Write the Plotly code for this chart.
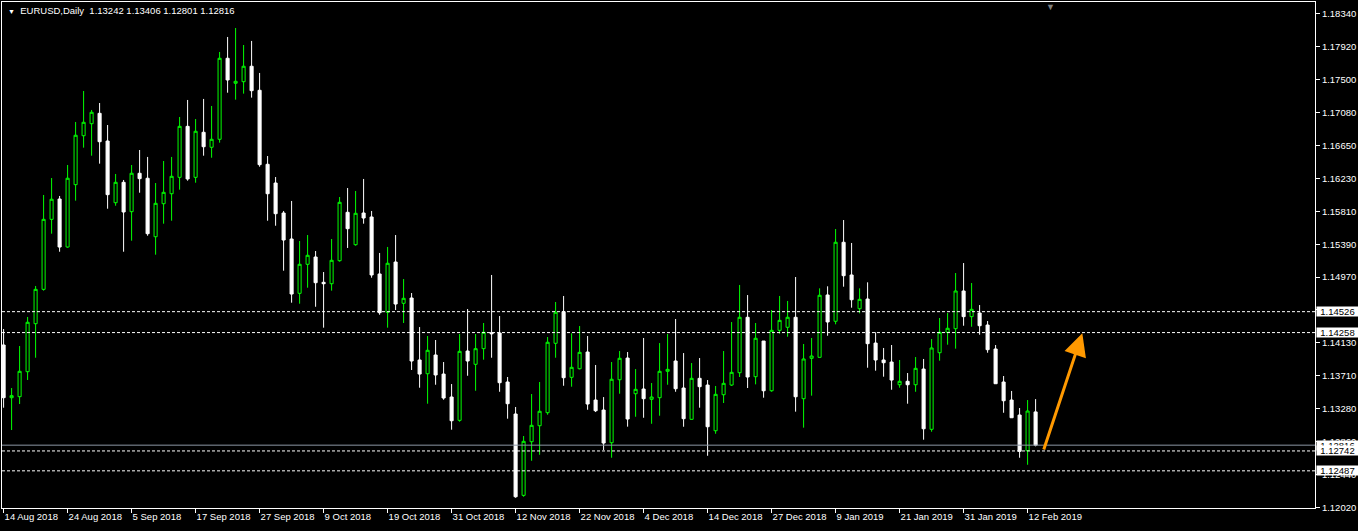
import plotly.graph_objects as go

# ---- data (EURUSD daily) ----
bar_index = list(range(130))

opens = [1.14099, 1.13424, 1.13437, 1.13757, 1.14372, 1.14812, 1.15709, 1.15969, 1.15354, 1.16153,
         1.16780, 1.16934, 1.17067, 1.16712, 1.15922, 1.16183, 1.15807, 1.16299, 1.16235, 1.15486,
         1.15909, 1.16037, 1.16247, 1.16900, 1.16247, 1.16824, 1.16632, 1.16734, 1.17772, 1.17452,
         1.17472, 1.17670, 1.17362, 1.16414, 1.16174, 1.15790, 1.15457, 1.14761, 1.15133, 1.15226,
         1.14902, 1.14884, 1.15179, 1.15799, 1.15384, 1.15790, 1.15739, 1.15009, 1.14518, 1.15162,
         1.14633, 1.14701, 1.13907, 1.13731, 1.13971, 1.13727, 1.13433, 1.13134, 1.14022, 1.13852,
         1.14052, 1.14256, 1.14253, 1.13625, 1.13215, 1.12173, 1.12860, 1.13065, 1.13232, 1.14121,
         1.14526, 1.13685, 1.13795, 1.14009, 1.13394, 1.13266, 1.12847, 1.13654, 1.13932, 1.13475,
         1.13535, 1.13403, 1.13424, 1.13762, 1.13894, 1.13548, 1.13147, 1.13672, 1.13586, 1.13001,
         1.13462, 1.13586, 1.13744, 1.14454, 1.13693, 1.14150, 1.13513, 1.14287, 1.14326, 1.14454,
         1.13411, 1.13928, 1.13941, 1.14740, 1.14403, 1.15415, 1.14996, 1.14564, 1.14688, 1.14124,
         1.13907, 1.13881, 1.13590, 1.13634, 1.13590, 1.13791, 1.13019, 1.14000, 1.14262, 1.14308,
         1.14791, 1.14462, 1.14509, 1.14355, 1.14048, 1.13625, 1.13394, 1.13202, 1.12745, 1.13242]

highs = [1.14304, 1.13548, 1.14086, 1.14458, 1.14855, 1.16021, 1.16238, 1.16008, 1.16405, 1.16956,
         1.17353, 1.17110, 1.17199, 1.16917, 1.16290, 1.16213, 1.16405, 1.16597, 1.16508, 1.16174,
         1.16456, 1.16508, 1.17020, 1.17238, 1.16994, 1.17251, 1.17161, 1.17853, 1.18045, 1.18160,
         1.17942, 1.17994, 1.17584, 1.16520, 1.16251, 1.15816, 1.15944, 1.15431, 1.15508, 1.15303,
         1.15034, 1.15457, 1.15995, 1.16110, 1.16072, 1.16226, 1.15816, 1.15278, 1.15355, 1.15508,
         1.14944, 1.14765, 1.14329, 1.14214, 1.14163, 1.13881, 1.13599, 1.14240, 1.14560, 1.14240,
         1.14381, 1.14996, 1.14470, 1.13689, 1.13305, 1.12933, 1.13471, 1.13625, 1.14201, 1.14650,
         1.14727, 1.14249, 1.14342, 1.14214, 1.13843, 1.13432, 1.13881, 1.14022, 1.14009, 1.13791,
         1.14189, 1.13612, 1.14124, 1.14240, 1.14432, 1.13996, 1.13868, 1.13932, 1.13650, 1.13574,
         1.14022, 1.14393, 1.14868, 1.14739, 1.14381, 1.14150, 1.14547, 1.14727, 1.14663, 1.14970,
         1.14112, 1.14189, 1.14825, 1.14851, 1.15585, 1.15700, 1.15406, 1.14825, 1.14902, 1.14262,
         1.14061, 1.14099, 1.13907, 1.13740, 1.13945, 1.13920, 1.14176, 1.14445, 1.14509, 1.15021,
         1.15149, 1.14893, 1.14611, 1.14406, 1.14099, 1.13702, 1.13510, 1.13292, 1.13394, 1.13406]

lows = [1.13296, 1.13010, 1.13343, 1.13651, 1.13936, 1.14795, 1.15525, 1.15294, 1.15345, 1.15948,
        1.16627, 1.16524, 1.16422, 1.15845, 1.15883, 1.15294, 1.15435, 1.16050, 1.15499, 1.15256,
        1.15653, 1.15691, 1.16089, 1.16204, 1.16178, 1.16524, 1.16498, 1.16691, 1.17331, 1.17242,
        1.17319, 1.17268, 1.16383, 1.15691, 1.15627, 1.15051, 1.14641, 1.14628, 1.14833, 1.14589,
        1.14321, 1.14795, 1.15166, 1.15342, 1.15371, 1.15653, 1.14961, 1.14487, 1.14321, 1.14547,
        1.14381, 1.13779, 1.13552, 1.13347, 1.13590, 1.13398, 1.13014, 1.13116, 1.13705, 1.13513,
        1.13911, 1.13936, 1.13500, 1.13155, 1.12142, 1.12155, 1.12616, 1.12693, 1.13206, 1.13936,
        1.13577, 1.13565, 1.13787, 1.13270, 1.13240, 1.12754, 1.12655, 1.13475, 1.13053, 1.13180,
        1.13167, 1.13090, 1.13193, 1.13590, 1.13500, 1.13052, 1.13142, 1.13296, 1.12680, 1.12962,
        1.13356, 1.13574, 1.13689, 1.13548, 1.13595, 1.13424, 1.13500, 1.14244, 1.14205, 1.13245,
        1.13040, 1.13450, 1.13941, 1.14218, 1.14364, 1.14846, 1.14577, 1.14505, 1.13808, 1.13770,
        1.13693, 1.13526, 1.13552, 1.13347, 1.13500, 1.12886, 1.12988, 1.13898, 1.14103, 1.14052,
        1.14346, 1.14333, 1.14231, 1.14000, 1.13603, 1.13231, 1.13167, 1.12655, 1.12565, 1.12801]

closes = [1.13424, 1.13450, 1.13762, 1.14390, 1.14812, 1.15709, 1.15966, 1.15354, 1.16235, 1.16786,
          1.16952, 1.17080, 1.16703, 1.16025, 1.16183, 1.15803, 1.16299, 1.16230, 1.15525, 1.15914,
          1.16055, 1.16260, 1.16900, 1.16226, 1.16837, 1.16639, 1.16734, 1.17772, 1.17494, 1.17477,
          1.17670, 1.17357, 1.16409, 1.16037, 1.15781, 1.15444, 1.14752, 1.15133, 1.15248, 1.14897,
          1.14884, 1.15184, 1.15927, 1.15589, 1.15786, 1.15726, 1.14996, 1.14513, 1.15146, 1.14624,
          1.14697, 1.13894, 1.13727, 1.14031, 1.13715, 1.13420, 1.13129, 1.14018, 1.13894, 1.14052,
          1.14262, 1.14244, 1.13616, 1.13347, 1.12155, 1.12865, 1.13070, 1.13250, 1.14134, 1.14518,
          1.13680, 1.13813, 1.14005, 1.13343, 1.13257, 1.12843, 1.13660, 1.13929, 1.13151, 1.13531,
          1.13411, 1.13433, 1.13762, 1.13787, 1.13539, 1.13155, 1.13672, 1.13565, 1.13052, 1.13467,
          1.13608, 1.13749, 1.14454, 1.13689, 1.14185, 1.13513, 1.14287, 1.14415, 1.14454, 1.13436,
          1.13920, 1.13958, 1.14736, 1.14394, 1.15415, 1.14987, 1.14679, 1.14684, 1.14116, 1.13907,
          1.13872, 1.13650, 1.13634, 1.13590, 1.13800, 1.13026, 1.14061, 1.14262, 1.14313, 1.14791,
          1.14462, 1.14556, 1.14346, 1.14039, 1.13603, 1.13385, 1.13167, 1.12737, 1.13253, 1.12816]

tick_positions = [0, 8, 16, 24, 32, 40, 48, 56, 64, 72, 80, 88, 96, 104, 112, 120, 128]
tick_labels = ["14 Aug 2018", "24 Aug 2018", "5 Sep 2018", "17 Sep 2018", "27 Sep 2018",
               "9 Oct 2018", "19 Oct 2018", "31 Oct 2018", "12 Nov 2018", "22 Nov 2018",
               "4 Dec 2018", "14 Dec 2018", "27 Dec 2018", "9 Jan 2019", "21 Jan 2019",
               "31 Jan 2019", "12 Feb 2019"]

price_ticks = [1.18340, 1.17920, 1.17500, 1.17080, 1.16650, 1.16230, 1.15810, 1.15390,
               1.14970, 1.14550, 1.14130, 1.13710, 1.13280, 1.12860, 1.12440, 1.12020]

dashed_levels = [1.14526, 1.14258, 1.12742, 1.12487]
bid_level = 1.12816

arrow_start = (129.96, 1.12741)
arrow_end = (134.84, 1.14249)

title_text = "EURUSD,Daily&nbsp;&nbsp;1.13242 1.13406 1.12801 1.12816"

FONT = "Liberation Sans, Arial, sans-serif"

fig = go.Figure()
fig.add_trace(go.Candlestick(
    x=bar_index, open=opens, high=highs, low=lows, close=closes,
    increasing=dict(line=dict(color="#00ff00", width=1), fillcolor="#000000"),
    decreasing=dict(line=dict(color="#ffffff", width=1), fillcolor="#ffffff"),
    whiskerwidth=0, showlegend=False, name="EURUSD"))

for lv in dashed_levels:
    fig.add_shape(type="line", xref="paper", x0=0, x1=1, yref="y", y0=lv, y1=lv,
                  line=dict(color="#ffffff", width=1, dash="3px,2px"))
fig.add_shape(type="line", xref="paper", x0=0, x1=1, yref="y", y0=bid_level, y1=bid_level,
              line=dict(color="#8c96a5", width=1))

annotations = []
# price labels on the right (bid first so the 1.12742 box sits on top)
for lv in [dashed_levels[0], dashed_levels[1], bid_level, dashed_levels[2], dashed_levels[3]]:
    annotations.append(dict(xref="paper", x=1, xanchor="left", xshift=1,
                            yref="y", y=lv, yanchor="middle",
                            text=f"{lv:.5f}", showarrow=False,
                            bgcolor="#ffffff", font=dict(color="#000000", size=9.5, family=FONT),
                            width=41, height=9, borderpad=0, align="center"))
annotations.append(dict(xref="paper", x=0, xanchor="left", xshift=4,
                        yref="paper", y=1, yanchor="top", yshift=-1,
                        text="<span style='font-size:7px'>▼</span>&nbsp;&nbsp;" + title_text,
                        showarrow=False, font=dict(color="#ffffff", size=9.5, family=FONT)))
annotations.append(dict(xref="paper", x=0.7985, xanchor="center",
                        yref="paper", y=1, yanchor="top", yshift=2,
                        text="▼", showarrow=False, font=dict(color="#808080", size=9, family=FONT)))
annotations.append(dict(xref="x", yref="y", x=arrow_end[0], y=arrow_end[1],
                        axref="x", ayref="y", ax=arrow_start[0], ay=arrow_start[1],
                        text="", showarrow=True, arrowhead=2, arrowsize=1.5,
                        arrowwidth=3, arrowcolor="#ff9900"))

fig.update_layout(
    width=1358, height=531,
    margin=dict(l=2, r=43, t=2, b=23),
    paper_bgcolor="#000000", plot_bgcolor="#000000",
    boxgap=0.45,
    font=dict(family=FONT, color="#ffffff", size=9.5),
    annotations=annotations,
    showlegend=False,
    xaxis=dict(range=[-0.2, 163.925], rangeslider=dict(visible=False),
               tickmode="array", tickvals=tick_positions, ticktext=tick_labels,
               ticks="outside", ticklen=4, tickcolor="#ffffff",
               ticklabelposition="outside right",
               tickfont=dict(color="#ffffff", size=9.5, family=FONT),
               showgrid=False, zeroline=False, showline=True, mirror=True,
               linecolor="#ffffff", linewidth=1),
    yaxis=dict(side="right", range=[1.12011, 1.18493],
               tickmode="array", tickvals=price_ticks,
               ticktext=[f"{v:.5f}" for v in price_ticks],
               ticks="outside", ticklen=4, tickcolor="#ffffff",
               tickfont=dict(color="#ffffff", size=9.5, family=FONT),
               showgrid=False, zeroline=False, showline=True, mirror=True,
               linecolor="#ffffff", linewidth=1),
)

fig.write_html("out.html", config={"displayModeBar": False},
               post_script="document.body.style.margin='0px';")
